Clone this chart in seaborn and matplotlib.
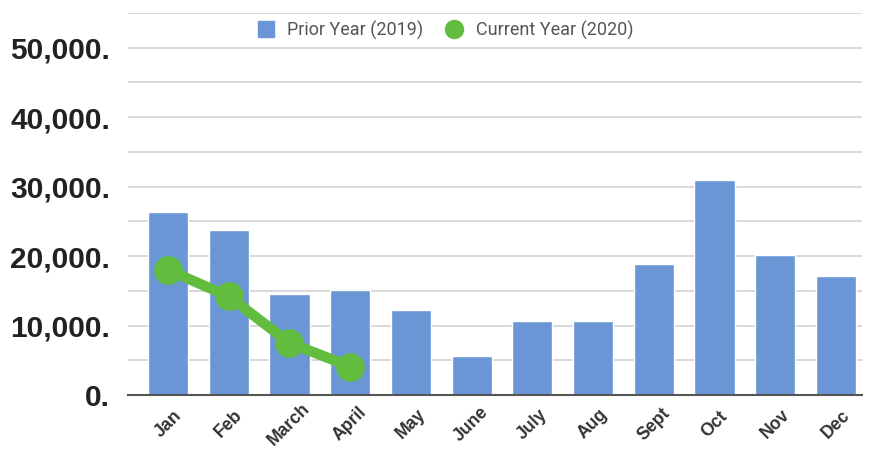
import matplotlib
matplotlib.use("Agg")
import matplotlib.pyplot as plt
import seaborn as sns
import pandas as pd
from matplotlib.lines import Line2D
from matplotlib.ticker import MultipleLocator, FuncFormatter

months = ["Jan", "Feb", "March", "April", "May", "June", "July", "Aug", "Sept", "Oct", "Nov", "Dec"]
prior_2019 = [26400, 23800, 14600, 15100, 12200, 5600, 10600, 10600, 18800, 30900, 20100, 17200]
current_months = ["Jan", "Feb", "March", "April"]
current_2020 = [18000, 14200, 7500, 4100]

bar_color = "#6a96d6"
line_color = "#62bd3f"

sns.set_theme(style="white")
plt.rcParams["font.family"] = ["Liberation Sans", "DejaVu Sans"]

fig = plt.figure(figsize=(8.83, 4.49), dpi=100)
ax = fig.add_axes([128 / 883, 54 / 449, 734 / 883, 382 / 449])

df_prior = pd.DataFrame({"month": months, "value": prior_2019})
df_cur = pd.DataFrame({"month": current_months, "value": current_2020})

sns.barplot(data=df_prior, x="month", y="value", order=months, color=bar_color,
            saturation=1, width=0.66, ax=ax, zorder=2)
sns.pointplot(data=df_cur, x="month", y="value", color=line_color, ax=ax,
              markers="o", markersize=15, linewidth=7.5, zorder=3)

ax.set_ylim(0, 55000)
ax.set_xlim(-0.66, 11.43)
ax.yaxis.set_major_locator(MultipleLocator(10000))
ax.yaxis.set_minor_locator(MultipleLocator(5000))
ax.yaxis.set_major_formatter(FuncFormatter(lambda v, p: f"{int(v):,}."))
ax.grid(True, which="both", axis="y", color="#d6d6d6", linewidth=1.3, zorder=0)
ax.set_axisbelow(True)
for s in ["top", "right", "left"]:
    ax.spines[s].set_visible(False)
ax.spines["bottom"].set_color("#555555")
ax.spines["bottom"].set_linewidth(1.5)
ax.spines["bottom"].set_zorder(4)
ax.tick_params(axis="both", which="both", length=0)
ax.tick_params(axis="y", labelsize=21.5, pad=13, labelcolor="#222222")
ax.tick_params(axis="x", labelsize=12.7, pad=21, labelcolor="#333333")
for lab in ax.get_yticklabels():
    lab.set_fontweight("bold")
for lab in ax.get_xticklabels():
    lab.set_fontweight("bold")
    lab.set_rotation(45)
    lab.set_ha("center")
    lab.set_va("center")
    lab.set_rotation_mode("anchor")
ax.set_xlabel("")
ax.set_ylabel("")

handles = [Line2D([0], [0], marker="s", color="none", markerfacecolor=bar_color,
                  markeredgecolor=bar_color, markersize=12, label="Prior Year (2019)"),
           Line2D([0], [0], marker="o", color="none", markerfacecolor=line_color,
                  markeredgecolor=line_color, markersize=13, label="Current Year (2020)")]
leg = ax.legend(handles=handles, loc="center", bbox_to_anchor=(0.432, 0.955), ncol=2,
                frameon=False, prop={"family": "Roboto", "size": 13}, labelcolor="#555555",
                handlelength=1.0, columnspacing=1.2, handletextpad=0.7)

fig.savefig("out.png", dpi=100, facecolor="white")
